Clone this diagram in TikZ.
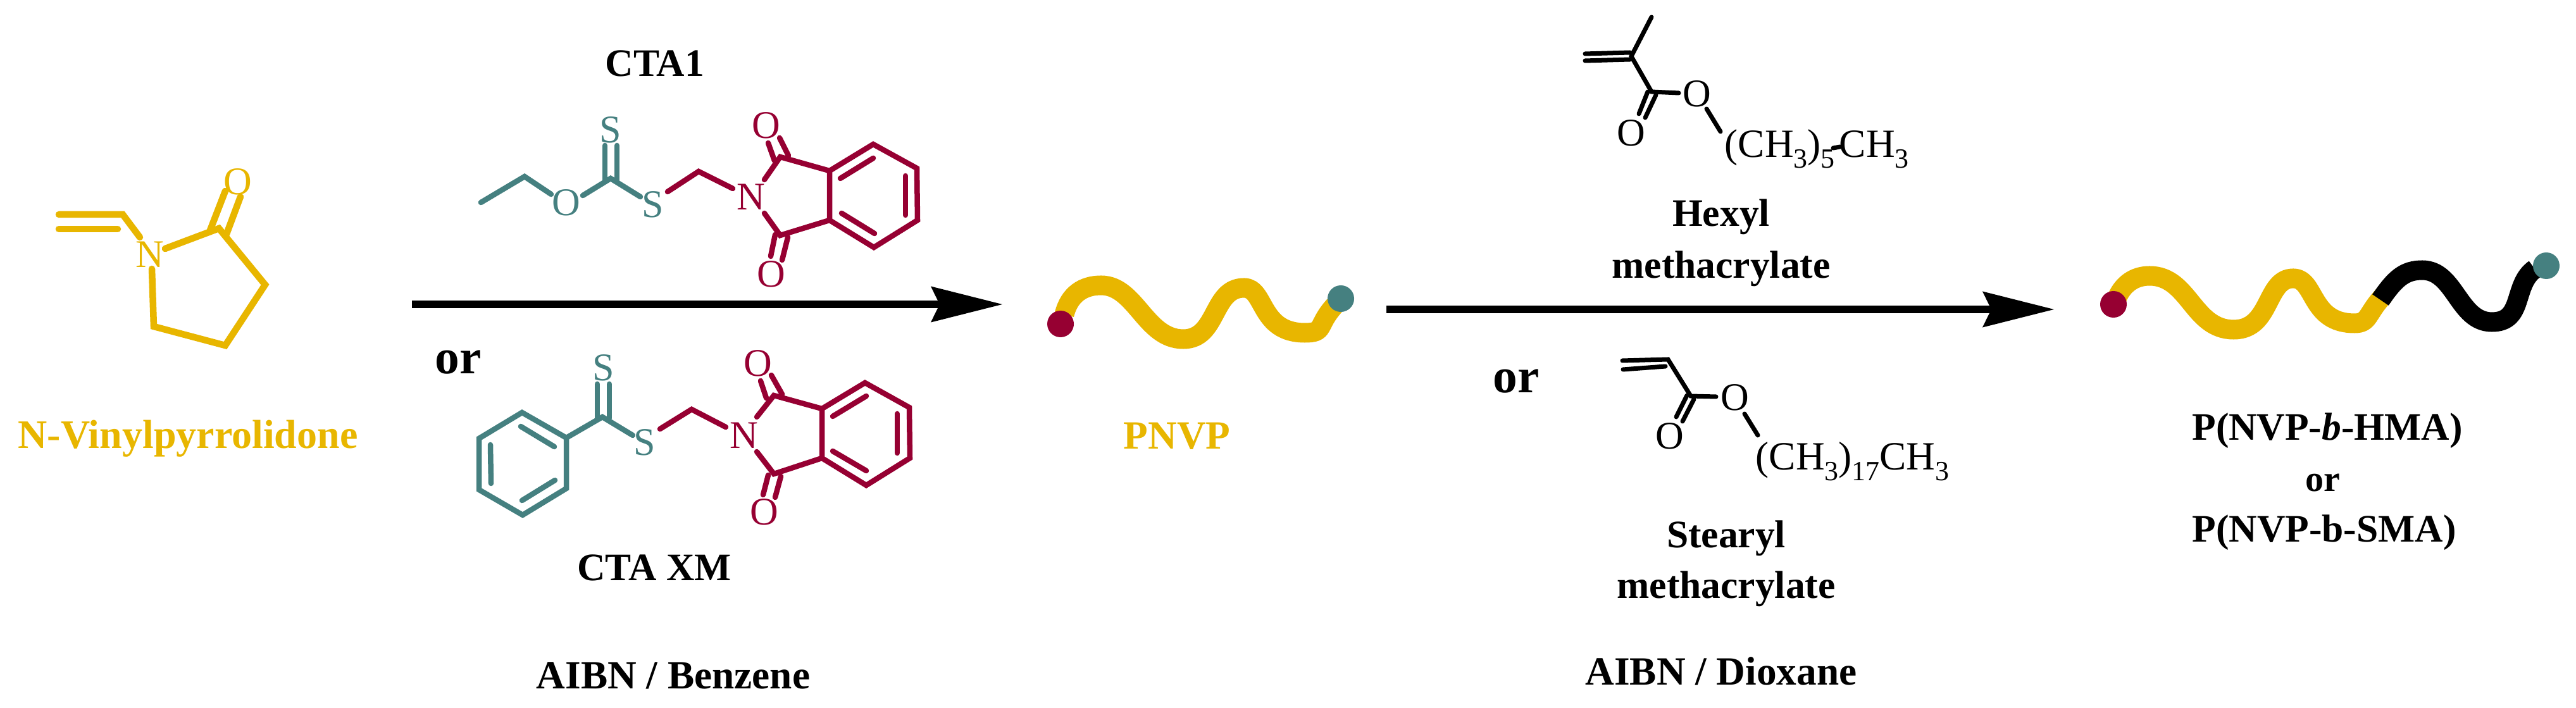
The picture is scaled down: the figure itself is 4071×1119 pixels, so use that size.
\documentclass[tikz,border=0pt]{standalone}
\usepackage{fontspec}
\setmainfont{Liberation Serif}
\usetikzlibrary{arrows.meta}
\definecolor{cyel}{RGB}{232,182,0}
\definecolor{cred}{RGB}{150,0,50}
\definecolor{cteal}{RGB}{69,128,128}
\newcommand{\sbs}[1]{\raisebox{-4.8pt}{\fontsize{12.5}{13}\selectfont #1}}
\tikzset{
  bondy/.style={draw=cyel,line width=.105cm,line cap=round,line join=miter},
  bondt/.style={draw=cteal,line width=.085cm,line cap=round,line join=miter},
  bondr/.style={draw=cred,line width=.085cm,line cap=round,line join=miter},
  bondk/.style={draw=black,line width=.07cm,line cap=round,line join=miter},
  atomlbl/.style={inner sep=0pt,font=\fontsize{17.6}{20}\selectfont},
  lblb/.style={inner sep=0pt,anchor=base,font=\fontsize{17.5}{20}\selectfont\bfseries},
  orlbl/.style={inner sep=0pt,anchor=base,font=\fontsize{22}{24}\selectfont\bfseries},
  formula/.style={inner sep=0pt,anchor=base west,font=\fontsize{18}{20}\selectfont},
  chainy/.style={draw=cyel,line width=.31cm,line cap=butt},
  chaink/.style={draw=black,line width=.31cm,line cap=butt},
  rxn/.style={draw=black,line width=.125cm,-{Stealth[length=1.13cm,width=.57cm,inset=.14cm,line width=0pt]}},
  enddot/.style={circle,inner sep=0pt,minimum size=.42cm}
}
\begin{document}
\begin{tikzpicture}[x=.01cm,y=-.01cm]
\useasboundingbox (0,0) rectangle (4071,1119);
% N-vinylpyrrolidone
\draw[bondy] (93,339) -- (194,339) -- (221,375);
\draw[bondy] (93,362) -- (186,362);
\draw[bondy] (261,393) -- (346,361) -- (419,450) -- (356,546) -- (243,516) -- (240,425);
\draw[bondy] (332,364) -- (356,302);
\draw[bondy] (358,370) -- (380,311);
\node[atomlbl,text=cyel] (vpN) at (237,402) {N};
\node[atomlbl,text=cyel] (vpO) at (376,287) {O};
\node[lblb,text=cyel,font=\fontsize{18.2}{20}\selectfont\bfseries] (vpname) at (297,709) {N-Vinylpyrrolidone};
% CTA1
\node[lblb] (cta1) at (1035,121) {CTA1};
\draw[bondt] (760,320) -- (829,279) -- (871,307);
\draw[bondt] (921,309) -- (965,282) -- (1012,311);
\draw[bondt] (956,230) -- (956,286);
\draw[bondt] (975,230) -- (975,286);
\node[atomlbl,text=cteal] (c1O) at (895,320) {O};
\node[atomlbl,text=cteal] (c1S) at (1032,323) {S};
\node[atomlbl,text=cteal] (c1St) at (965,205) {S};
\draw[bondr] (1055,303) -- (1104,271) -- (1158,298);
\draw[bondr] (1208,284) -- (1233,248) -- (1311,270);
\draw[bondr] (1208,337) -- (1233,372) -- (1311,348);
\draw[bondr] (1214,226) -- (1224,254);
\draw[bondr] (1232,218) -- (1246,246);
\draw[bondr] (1218,405) -- (1225,371);
\draw[bondr] (1236,411) -- (1245,375);
\draw[bondr] (1311,270) -- (1380,228) -- (1449,266) -- (1450,348) -- (1381,391) -- (1311,348) -- cycle;
\draw[bondr] (1328,282) -- (1380,250);
\draw[bondr] (1431,278) -- (1431,340);
\draw[bondr] (1330,337) -- (1382,369);
\node[atomlbl,text=cred] (c1N) at (1187,311) {N};
\node[atomlbl,text=cred] (c1O1) at (1211,198) {O};
\node[atomlbl,text=cred] (c1O2) at (1219,433) {O};
% arrow 1
\coordinate (a1s) at (651,481);
\coordinate (a1e) at (1584,481);
\draw[rxn] (a1s) -- (a1e);
\node[orlbl] (or1) at (724,591) {or};
% CTA XM
\draw[bondt] (944,607) -- (944,661);
\draw[bondt] (963,607) -- (963,661);
\draw[bondt] (895,692) -- (952,659) -- (1000,688);
\draw[bondt] (825,652) -- (895,692) -- (895,772) -- (826,814) -- (757,774) -- (757,693) -- cycle;
\draw[bondt] (823,674) -- (876,706);
\draw[bondt] (775,703) -- (776,764);
\draw[bondt] (825,791) -- (877,759);
\node[atomlbl,text=cteal] (c2St) at (954,581) {S};
\node[atomlbl,text=cteal] (c2S) at (1019,699) {S};
\draw[bondr] (1043,678) -- (1093,647) -- (1147,675);
\draw[bondr] (1196,659) -- (1223,625) -- (1299,646);
\draw[bondr] (1196,714) -- (1223,749) -- (1299,724);
\draw[bondr] (1211,629) -- (1202,602);
\draw[bondr] (1236,623) -- (1219,593);
\draw[bondr] (1206,782) -- (1214,751);
\draw[bondr] (1225,786) -- (1234,753);
\draw[bondr] (1299,646) -- (1367,605) -- (1437,644) -- (1438,724) -- (1369,767) -- (1299,724) -- cycle;
\draw[bondr] (1316,658) -- (1369,626);
\draw[bondr] (1418,654) -- (1418,716);
\draw[bondr] (1316,713) -- (1369,744);
\node[atomlbl,text=cred] (c2N) at (1176,688) {N};
\node[atomlbl,text=cred] (c2O1) at (1198,574) {O};
\node[atomlbl,text=cred] (c2O2) at (1208,809) {O};
\node[lblb] (ctaxm) at (1034,918) {CTA XM};
\node[lblb,font=\fontsize{18}{20}\selectfont\bfseries] (aibn1) at (1064,1089) {AIBN / Benzene};
% PNVP
\draw[chainy] (1682,497) .. controls (1690,465) and (1712,451) .. (1740,451)
  .. controls (1795,451) and (1810,536) .. (1870,536)
  .. controls (1925,536) and (1915,455) .. (1966,455)
  .. controls (2000,455) and (1990,526) .. (2062,526)
  .. controls (2095,526) and (2080,515) .. (2109,483);
\node[enddot,fill=cred] (dr1) at (1676,512) {};
\node[enddot,fill=cteal] (dt1) at (2119,472) {};
\node[lblb,text=cyel,font=\fontsize{18}{20}\selectfont\bfseries] (pnvp) at (1860,710) {PNVP};
% arrow 2
\coordinate (a2s) at (2191,489);
\coordinate (a2e) at (3246,489);
\draw[rxn] (a2s) -- (a2e);
\node[orlbl] (or2) at (2396,621) {or};
% Hexyl methacrylate
\draw[bondk] (2610,27) -- (2578,89) -- (2610,145) -- (2653,147);
\draw[bondk] (2505,85) -- (2576,83);
\draw[bondk] (2505,96) -- (2576,94);
\draw[bondk] (2590,180) -- (2604,145);
\draw[bondk] (2600,186) -- (2617,150);
\draw[bondk] (2697,172) -- (2719,208);
\node[atomlbl] (hO1) at (2682,148) {O};
\node[atomlbl] (hO2) at (2578,210) {O};
\node[formula] (hf) at (2725,249) {(CH\sbs{3})\sbs{5}\hspace{2pt}CH\sbs{3}};
\draw[bondk] (2897,234) -- (2908,232);
\node[lblb] (hx1) at (2720,358) {Hexyl};
\node[lblb] (hx2) at (2720,440) {methacrylate};
% Stearyl methacrylate
\draw[bondk] (2564,570) -- (2636,568) -- (2672,626) -- (2712,627);
\draw[bondk] (2565,584) -- (2632,579);
\draw[bondk] (2649,659) -- (2666,625);
\draw[bondk] (2659,666) -- (2677,631);
\draw[bondk] (2757,654) -- (2778,688);
\node[atomlbl] (sO1) at (2742,628) {O};
\node[atomlbl] (sO2) at (2639,689) {O};
\node[formula] (sf) at (2774,743) {(CH\sbs{3})\sbs{17}CH\sbs{3}};
\node[lblb] (st1) at (2728,866) {Stearyl};
\node[lblb] (st2) at (2728,946) {methacrylate};
\node[lblb,font=\fontsize{18}{20}\selectfont\bfseries] (aibn2) at (2720,1083) {AIBN / Dioxane};
% block copolymer
\draw[chainy] (3346,470) .. controls (3355,450) and (3372,436) .. (3397,436)
  .. controls (3460,436) and (3465,521) .. (3530,521)
  .. controls (3590,521) and (3580,440) .. (3624,440)
  .. controls (3660,440) and (3650,511) .. (3721,511)
  .. controls (3745,511) and (3740,495) .. (3768,466);
\draw[chaink] (3762,474) .. controls (3785,440) and (3800,427) .. (3828,427)
  .. controls (3880,427) and (3885,509) .. (3938,509)
  .. controls (3990,509) and (3970,450) .. (4006,425);
\node[enddot,fill=cred] (dr2) at (3340,481) {};
\node[enddot,fill=cteal] (dt2) at (4024,420) {};
\node[lblb] (pb1) at (3678,696) {P(NVP-\textit{b}-HMA)};
\node[lblb,font=\fontsize{16.5}{18}\selectfont\bfseries] (pbor) at (3671,777) {or};
\node[lblb] (pb2) at (3673,857) {P(NVP-b-SMA)};
\end{tikzpicture}
\end{document}
